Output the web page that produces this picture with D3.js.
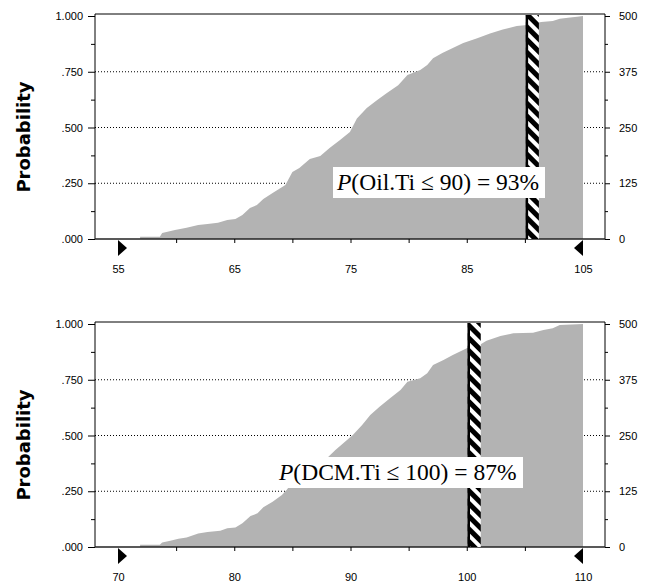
<!DOCTYPE html>
<meta charset="utf-8">
<script src="https://d3js.org/d3.v7.min.js"></script>
<style>
  body { margin: 0; background: #fff; }
  text { font-family: "Liberation Sans", Arial, sans-serif; }
</style>
<body>
<div id="chart"></div>
<script>

// ---- data ----
// top panel: Oil.Ti cumulative curve
var oilX = [56.9, 56.9, 58.6, 58.8, 59.9, 60.9, 61.9, 62.7, 63.6, 64.4, 65.1, 65.7, 66.35, 66.95, 67.5, 68.3,
  69.4, 70.0, 70.6, 71.5, 72.4, 73.2, 74.1, 74.95, 75.55, 76.4, 77.3, 78.1, 79.1, 79.9, 81.0, 81.6, 82.1,
  82.9, 83.8, 84.7, 85.9, 87.0, 88.1, 89.3, 90.2, 91.4, 92.4, 93.0, 93.9, 94.5, 95.0]
var oilP = [0, 0.01, 0.01, 0.027, 0.04, 0.05, 0.063, 0.067, 0.073, 0.085, 0.09, 0.108, 0.139, 0.152, 0.179, 0.206,
  0.242, 0.30, 0.318, 0.359, 0.372, 0.408, 0.444, 0.48, 0.54, 0.587, 0.623, 0.654, 0.69, 0.735, 0.758, 0.78, 0.81,
  0.834, 0.856, 0.879, 0.9, 0.922, 0.94, 0.955, 0.96, 0.973, 0.978, 0.988, 0.993, 0.997, 1.0]

// bottom panel: DCM.Ti cumulative curve
var dcmX = [71.9, 71.9, 73.6, 73.8, 74.5, 75.2, 75.9, 76.9, 77.7, 78.8, 79.4, 80.1, 80.7, 81.4, 82.0, 82.5,
  83.3, 84.1, 84.5, 85.0, 85.7, 86.5, 87.4, 88.1, 88.7, 90.2, 91.0, 91.7, 92.5, 93.4, 94.3, 94.9, 96.0,
  96.6, 97.1, 98.0, 98.8, 100.0, 101.1, 101.7, 102.9, 104.0, 105.7, 106.6, 107.4, 108.0, 110.0]
var dcmP = [0, 0.01, 0.01, 0.02, 0.028, 0.037, 0.043, 0.061, 0.067, 0.073, 0.084, 0.088, 0.106, 0.139, 0.151, 0.178,
  0.203, 0.233, 0.256, 0.29, 0.31, 0.345, 0.37, 0.405, 0.435, 0.502, 0.547, 0.592, 0.629, 0.667, 0.704, 0.741, 0.757,
  0.779, 0.816, 0.839, 0.861, 0.891, 0.906, 0.925, 0.946, 0.958, 0.961, 0.973, 0.981, 0.996, 1.0]

// axes
var xDomains = [[55, 95], [70, 110]]
var xTicks = [[60, 65, 70, 75, 80, 85, 90], [75, 80, 85, 90, 95, 100, 105]]
var xLabelValues = [[55, 65, 75, 85, 95], [70, 80, 90, 100, 110]]
var xLabels = [["55", "65", "75", "85", "105"], ["70", "80", "90", "100", "110"]]
var probTicks = [0, 0.25, 0.5, 0.75, 1]
var probMinor = [0.125, 0.375, 0.625, 0.875]
var countTicks = [0, 125, 250, 375, 500]
var countMinor = [62.5, 187.5, 312.5, 437.5]
var gridTicks = [0.25, 0.5, 0.75]

// annotations
var varNames = ["Oil.Ti", "DCM.Ti"]
var cutoffs = [90, 100]
var percents = [93, 87]

// ---- layout ----
var width = 653, height = 582
var panelTops = [14, 322]          // y of frame top
var boxPos = [[333, 167, 212], [275, 457, 248]]   // annotation box x, y, width

var svg = d3.select("#chart").append("svg")
    .attr("width", width)
    .attr("height", height)

// diagonal hatch for the cutoff bar
var pat = svg.append("defs").append("pattern")
    .attr("id", "hatch")
    .attr("patternUnits", "userSpaceOnUse")
    .attr("width", 9)
    .attr("height", 9)
    .attr("patternTransform", "rotate(-45)")
pat.append("rect").attr("width", 9).attr("height", 9).attr("fill", "#fff")
pat.append("rect").attr("width", 5).attr("height", 9).attr("fill", "#000")

function drawPanel(i, xs, ps) {
  var top = panelTops[i]
  var g = svg.append("g")

  var x = d3.scaleLinear().domain(xDomains[i]).range([118, 583])
  var y = d3.scaleLinear().domain([0, 1]).range([top + 225, top + 2])
  var yR = d3.scaleLinear().domain([0, 500]).range([top + 225, top + 2])
  var left = 95, right = 605, bottom = top + 225

  // gridlines
  g.selectAll(".grid").data(gridTicks).enter().append("line")
      .attr("x1", left).attr("x2", right)
      .attr("y1", d => y(d)).attr("y2", d => y(d))
      .attr("stroke", "#000")
      .attr("stroke-width", 1)
      .attr("stroke-dasharray", "1,2")

  // cumulative area
  var pts = xs.map((v, k) => [v, ps[k]])
  var area = d3.area()
      .x(d => x(d[0]))
      .y0(y(0))
      .y1(d => y(d[1]))
  g.append("path")
      .datum(pts)
      .attr("d", area)
      .attr("fill", "#b3b3b3")

  // frame
  g.append("path")
      .attr("d", "M" + left + "," + bottom + "V" + top + "H" + right + "V" + bottom)
      .attr("fill", "none")
      .attr("stroke", "#000")
      .attr("stroke-width", 1)
  g.append("line")
      .attr("x1", left).attr("x2", right)
      .attr("y1", bottom).attr("y2", bottom)
      .attr("stroke", "#222")
      .attr("stroke-width", 1.5)

  // left axis
  var la = g.append("g").attr("transform", "translate(" + left + ",0)")
      .call(d3.axisLeft(y).tickValues(probTicks).tickSize(7).tickPadding(5)
        .tickFormat(d => d3.format(".3f")(d).replace(/^0/, "")))
  var lm = g.append("g").attr("transform", "translate(" + left + ",0)")
      .call(d3.axisLeft(y).tickValues(probMinor).tickSize(4).tickFormat(""))

  // right axis
  var ra = g.append("g").attr("transform", "translate(" + right + ",0)")
      .call(d3.axisRight(yR).tickValues(countTicks).tickSize(5).tickPadding(9))
  var rm = g.append("g").attr("transform", "translate(" + right + ",0)")
      .call(d3.axisRight(yR).tickValues(countMinor).tickSize(3).tickFormat(""))

  // bottom ticks and labels
  var bt = g.append("g").attr("transform", "translate(0," + bottom + ")")
      .call(d3.axisBottom(x).tickValues(xTicks[i]).tickSize(4).tickFormat(""))
  var bl = g.append("g").attr("transform", "translate(0," + bottom + ")")
      .call(d3.axisBottom(x).tickValues(xLabelValues[i]).tickSize(0).tickPadding(26)
        .tickFormat((d, k) => xLabels[i][k]))

  ;[la, lm, ra, rm, bt, bl].forEach(a => {
    a.select(".domain").remove()
    a.selectAll("line").attr("stroke", "#000")
    a.selectAll("text").attr("font-size", 11).attr("fill", "#000")
      .style("font-family", "'Liberation Sans', Arial, sans-serif")
  })

  // delimiter triangles
  var xl = x(xDomains[i][0]), xr = x(xDomains[i][1])
  g.append("path")
      .attr("d", "M" + xl + "," + (bottom + 1) + "V" + (bottom + 17) + "L" + (xl + 9) + "," + (bottom + 9) + "Z")
      .attr("fill", "#000")
  g.append("path")
      .attr("d", "M" + xr + "," + (bottom + 1) + "V" + (bottom + 17) + "L" + (xr - 9) + "," + (bottom + 9) + "Z")
      .attr("fill", "#000")

  // cutoff bar
  var cx = x(cutoffs[i]) + 1
  g.append("rect")
      .attr("x", cx).attr("y", top + 1)
      .attr("width", 13).attr("height", bottom - top - 1)
      .attr("fill", "url(#hatch)")
  g.append("line")
      .attr("x1", cx + 1).attr("x2", cx + 1)
      .attr("y1", top + 1).attr("y2", bottom)
      .attr("stroke", "#000")
      .attr("stroke-width", 2.5)

  // annotation box (sits over the bar)
  var b = boxPos[i]
  g.append("rect")
      .attr("x", b[0]).attr("y", b[1])
      .attr("width", b[2]).attr("height", 31)
      .attr("fill", "#fff")
  var t = g.append("text")
      .attr("x", b[0] + 4)
      .attr("y", b[1] + 23)
      .attr("font-size", 23.5)
      .style("font-family", "'Liberation Serif', 'Times New Roman', serif")
      .attr("fill", "#000")
  t.append("tspan").attr("font-style", "italic").text("P")
  t.append("tspan").text("(" + varNames[i] + " \u2264 " + cutoffs[i] + ") = " + percents[i] + "%")

  // y title
  g.append("text")
      .attr("transform", "translate(30," + (top + 123) + ") rotate(-90)")
      .attr("text-anchor", "middle")
      .attr("font-size", 18)
      .attr("font-weight", "bold")
      .style("font-family", "'DejaVu Sans', Verdana, sans-serif")
      .text("Probability")
}

drawPanel(0, oilX, oilP)
drawPanel(1, dcmX, dcmP)

</script>
</body>
